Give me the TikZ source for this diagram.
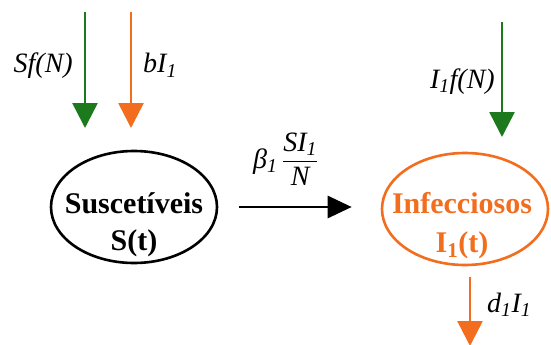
\documentclass[tikz,border=0pt]{standalone}
\usepackage{fontspec}
\usepackage{amsmath}
\setmainfont{Liberation Serif}
\usetikzlibrary{arrows.meta,shapes.geometric}
\definecolor{grn}{RGB}{28,122,28}
\definecolor{org}{RGB}{242,110,30}
\begin{document}
\begin{tikzpicture}[x=1pt,y=-1pt,
  comp/.style={ellipse, draw, line width=2.6pt, minimum width=166pt, minimum height=112pt, inner sep=0pt},
  ctext/.style={font=\fontsize{30}{37}\selectfont\bfseries, inner sep=0pt, anchor=base},
  lab/.style={font=\fontsize{28}{34}\selectfont\itshape, inner sep=0pt},
  flow/.style={line width=2.6pt, -{Triangle[width=25pt,length=25pt]}}]
\useasboundingbox[fill=white] (0,0) rectangle (551,345);
% compartments
\node[comp] (sus) at (134,207) {};
\node[comp, draw=org] (inf) at (465,209) {};
\node[ctext] (st1) at (134,213) {Suscetíveis};
\node[ctext] (st2) at (134,250) {S(t)};
\node[ctext, text=org] (it1) at (462,213) {Infecciosos};
\node[ctext, text=org] (it2) at (462,252) {I\textsubscript{1}(t)};
% transition
\draw[line width=2.8pt, -{Triangle[width=22pt,length=24pt]}, shorten <=21pt, shorten >=29pt]
  (sus.east) -- (sus.east -| inf.west);
\node[lab, anchor=base west] (rate) at (253,168)
  {β\textsubscript{1}\,$\dfrac{\hbox{\itshape SI\textsubscript{1}}}{\hbox{\itshape N}}$};
% inflows / outflows
\coordinate (g1s) at (85,12);  \coordinate (g1e) at (85,128);
\coordinate (o1s) at (131,12); \coordinate (o1e) at (131,128);
\coordinate (g2s) at (502,22); \coordinate (g2e) at (502,137);
\coordinate (o2s) at (470,277); \coordinate (o2e) at (470,346);
\draw[flow, grn] (g1s) -- (g1e);
\draw[flow, org] (o1s) -- (o1e);
\draw[flow, grn] (g2s) -- (g2e);
\draw[flow, org] (o2s) -- (o2e);
\node[lab, anchor=base east] (lsf) at (73,73) {Sf(N)};
\node[lab, anchor=base west] (lbi) at (143,73) {bI\textsubscript{1}};
\node[lab, anchor=base east] (lif) at (495,88) {I\textsubscript{1}f(N)};
\node[lab, anchor=base west] (ldi) at (487,312) {d\textsubscript{1}I\textsubscript{1}};
\end{tikzpicture}
\end{document}
